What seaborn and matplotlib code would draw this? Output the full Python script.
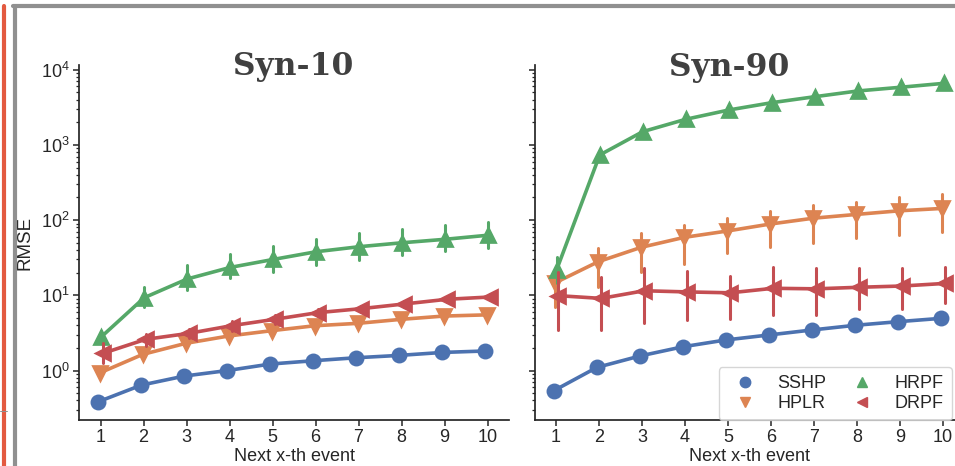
import numpy as np
import pandas as pd
import matplotlib
matplotlib.use("Agg")
import matplotlib.pyplot as plt
from matplotlib.lines import Line2D
import seaborn as sns

# data
events = ["1", "2", "3", "4", "5", "6", "7", "8", "9", "10"]
methods = ["SSHP", "HPLR", "HRPF", "DRPF"]
markers = ["o", "v", "^", "<"]

syn10_rmse = {
    "SSHP": [0.385, 0.64, 0.845, 1.0, 1.22, 1.35, 1.48, 1.59, 1.74, 1.82],
    "HPLR": [0.93, 1.64, 2.3, 2.88, 3.39, 3.94, 4.24, 4.79, 5.3, 5.5],
    "HRPF": [2.8, 9.3, 16.5, 23.5, 30, 38, 44.3, 50, 55.6, 63],
    "DRPF": [1.69, 2.6, 3.12, 3.95, 4.8, 5.88, 6.64, 7.66, 8.85, 9.5],
}
syn10_low = {
    "SSHP": [0.385, 0.64, 0.845, 1.0, 1.22, 1.35, 1.48, 1.59, 1.74, 1.82],
    "HPLR": [0.9, 1.58, 2.2, 2.76, 3.25, 3.78, 4.07, 4.6, 5.1, 5.3],
    "HRPF": [2.3, 6.9, 11.8, 16.8, 20.6, 25.3, 29.5, 34.4, 39.2, 42.2],
    "DRPF": [1.25, 2.1, 2.7, 3.4, 4.2, 5.3, 6.0, 7.0, 8.1, 8.7],
}
syn10_high = {
    "SSHP": [0.385, 0.64, 0.845, 1.0, 1.22, 1.35, 1.48, 1.59, 1.74, 1.82],
    "HPLR": [0.96, 1.7, 2.4, 3.0, 3.53, 4.1, 4.41, 4.98, 5.5, 5.7],
    "HRPF": [3.4, 13, 25.3, 35.5, 45, 55.6, 66.7, 75.5, 86, 95.5],
    "DRPF": [2.3, 3.1, 3.6, 4.5, 5.4, 6.5, 7.3, 8.4, 9.6, 10.3],
}

syn90_rmse = {
    "SSHP": [0.54, 1.10, 1.56, 2.07, 2.55, 2.97, 3.46, 3.99, 4.46, 4.94],
    "HPLR": [14.7, 28, 43.5, 59, 71.6, 88.7, 106, 119, 133, 143],
    "HRPF": [22, 734, 1500, 2190, 2910, 3640, 4370, 5210, 5840, 6580],
    "DRPF": [9.9, 9.1, 11.5, 11.1, 10.8, 12.4, 12.2, 12.8, 13.3, 14.4],
}
syn90_low = {
    "SSHP": [0.54, 1.10, 1.56, 2.07, 2.55, 2.97, 3.46, 3.99, 4.46, 4.94],
    "HPLR": [7.1, 13, 20.6, 26, 36, 44, 49, 57, 63, 70],
    "HRPF": [14.5, 734, 1500, 2190, 2910, 3640, 4370, 5210, 5840, 6580],
    "DRPF": [3.46, 3.46, 4.25, 4.7, 4.8, 5.5, 5.5, 6.5, 6.5, 7.8],
}
syn90_high = {
    "SSHP": [0.54, 1.10, 1.56, 2.07, 2.55, 2.97, 3.46, 3.99, 4.46, 4.94],
    "HPLR": [18, 42, 67, 87, 107, 133, 158, 176, 200, 222],
    "HRPF": [32, 734, 1500, 2190, 2910, 3640, 4370, 5210, 5840, 6580],
    "DRPF": [20.6, 17.7, 22.9, 21.2, 18.2, 23.5, 22.9, 23.3, 22.9, 23.5],
}


def long_table(mid, low, high):
    rows = []
    for m in methods:
        for i, ev in enumerate(events):
            for v in (low[m][i], mid[m][i], high[m][i]):
                rows.append({"event": ev, "method": m, "rmse": v})
    return pd.DataFrame(rows)


sns.set_theme(style="ticks", palette="deep")
plt.rcParams["font.family"] = ["Liberation Sans", "DejaVu Sans"]

W, H = 955, 466
fig = plt.figure(figsize=(W / 100, H / 100), dpi=100)
ax1 = fig.add_axes([79 / W, 1 - 420 / H, 430 / W, 355 / H])
ax2 = fig.add_axes([534.5 / W, 1 - 420 / H, 430 / W, 355 / H], sharey=ax1)

panels = [(ax1, syn10_rmse, syn10_low, syn10_high),
          (ax2, syn90_rmse, syn90_low, syn90_high)]

for ax, mid, low, high in panels:
    ax.set_yscale("log")
    df = long_table(mid, low, high)
    sns.pointplot(data=df, x="event", y="rmse", hue="method", order=events,
                  hue_order=methods, markers=markers, linestyles="-",
                  estimator="median", errorbar=lambda v: (v.min(), v.max()),
                  dodge=True, markersize=9.5, linewidth=2.6,
                  err_kws={"linewidth": 2.2}, legend=False, ax=ax)
    ax.set_xlabel("Next x-th event", fontsize=13)
    ax.xaxis.set_label_coords(0.5, -0.08)
    ax.tick_params(axis="both", which="major", labelsize=13, length=4,
                   width=1.1, pad=2.5)
    ax.tick_params(axis="y", which="minor", length=2.5, width=0.9)
    sns.despine(ax=ax)

ax1.set_ylim(0.22, 11540)
ax1.set_ylabel("RMSE", fontsize=13.5)
ax1.yaxis.set_label_coords(-0.105, 0.5)
ax2.set_ylabel("")
ax2.tick_params(axis="y", labelleft=False)

title_kw = dict(fontsize=22.5, fontweight="bold", family="DejaVu Serif",
                color="#404040", ha="center", va="baseline")
fig.text(293 / W, 1 - 75 / H, "Syn-10", **title_kw)
fig.text(729 / W, 1 - 76 / H, "Syn-90", **title_kw)

pal = sns.color_palette("deep")
handles = [Line2D([], [], marker=mk, linestyle="", color=pal[i], markersize=7.5)
           for i, mk in enumerate(markers)]
ax2.legend(handles, methods, ncol=2, fontsize=13, loc="lower right",
           bbox_to_anchor=(952 / W, 1 - 420 / H), bbox_transform=fig.transFigure,
           borderaxespad=0, columnspacing=1.0, handletextpad=0.8,
           labelspacing=0.15, borderpad=0.45)

# page decorations around the figure in the screenshot
def px(x, y):
    return x / W, 1 - y / H

fig.add_artist(Line2D(*zip(px(4, 6), px(4, H)), color="#e35a40", linewidth=3,
                      solid_capstyle="round"))
fig.add_artist(Line2D(*zip(px(15.3, 6), px(15.3, H)), color="#909090", linewidth=3))
fig.add_artist(Line2D(*zip(px(13.3, 6), px(W, 6)), color="#909090", linewidth=3))
fig.add_artist(Line2D(*zip(px(0, 411), px(7, 411)), color="#909090", linewidth=0.7))

fig.savefig("out.png", dpi=100)
